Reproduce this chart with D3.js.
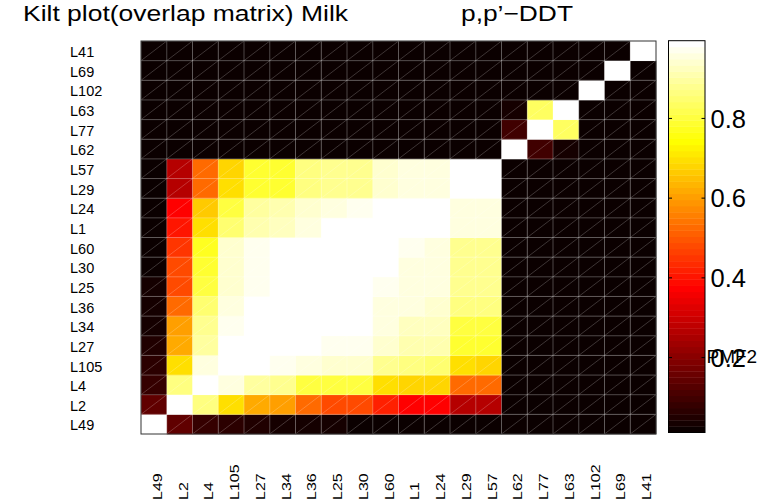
<!DOCTYPE html>
<html><head><meta charset="utf-8">
<script src="https://cdn.jsdelivr.net/npm/d3@7"></script>
<style>
html,body{margin:0;padding:0;background:#fff;}
svg{display:block;}
text{font-family:"Liberation Sans",Arial,Helvetica,sans-serif;fill:#000;}
</style></head>
<body>
<svg id="chart" width="759" height="502"></svg>
<script>
// ---- data ----
const titleLeft = "Kilt plot(overlap matrix) Milk";
const titleRight = "p,p\u2019\u2212DDT";
const colorbarLabel = "PMF2";
// categories, bottom-to-top on y and left-to-right on x
const labels = ["L49","L2","L4","L105","L27","L34","L36","L25","L30","L60","L1","L24","L29","L57","L62","L77","L63","L102","L69","L41"];
const colorTicks = [0.2, 0.4, 0.6, 0.8];
const colorLimits = [0.012, 0.995];
// overlap values: one row per y category (same order as labels), columns in label order
const rowL49  = [1.00,0.135,0.080,0.066,0.050,0.035,0.030,0.028,0.025,0.025,0.022,0.020,0.020,0.020,0.02,0.02,0.02,0.02,0.02,0.02];
const rowL2   = [0.135,1.00,0.864,0.695,0.626,0.604,0.526,0.488,0.488,0.419,0.373,0.373,0.266,0.266,0.02,0.02,0.02,0.02,0.02,0.02];
const rowL4   = [0.080,0.864,1.00,0.957,0.895,0.880,0.803,0.803,0.803,0.695,0.674,0.674,0.534,0.534,0.02,0.02,0.02,0.02,0.02,0.02];
const rowL105 = [0.066,0.695,0.957,1.00,0.990,0.972,0.957,0.945,0.945,0.880,0.864,0.850,0.695,0.674,0.02,0.02,0.02,0.02,0.02,0.02];
const rowL27  = [0.050,0.626,0.895,0.990,1.00,0.990,0.990,0.972,0.970,0.941,0.910,0.910,0.788,0.788,0.02,0.02,0.02,0.02,0.02,0.02];
const rowL34  = [0.035,0.604,0.880,0.972,0.990,1.00,0.995,0.990,0.990,0.957,0.926,0.926,0.803,0.803,0.02,0.02,0.02,0.02,0.02,0.02];
const rowL36  = [0.030,0.526,0.850,0.960,0.990,0.995,1.00,0.995,0.990,0.957,0.950,0.945,0.864,0.864,0.02,0.02,0.02,0.02,0.02,0.02];
const rowL25  = [0.028,0.488,0.810,0.945,0.975,0.990,0.995,1.00,0.995,0.972,0.957,0.957,0.880,0.880,0.02,0.02,0.02,0.02,0.02,0.02];
const rowL30  = [0.025,0.475,0.790,0.941,0.972,0.990,0.990,0.995,1.00,0.990,0.957,0.957,0.880,0.880,0.02,0.02,0.02,0.02,0.02,0.02];
const rowL60  = [0.025,0.457,0.772,0.941,0.972,0.990,0.990,0.990,0.995,1.00,0.972,0.957,0.880,0.880,0.02,0.02,0.02,0.02,0.02,0.02];
const rowL1   = [0.022,0.410,0.695,0.850,0.910,0.926,0.957,0.990,0.990,0.990,1.00,0.990,0.950,0.950,0.02,0.02,0.02,0.02,0.02,0.02];
const rowL24  = [0.020,0.373,0.665,0.803,0.895,0.910,0.941,0.960,0.965,0.990,0.990,1.00,0.957,0.957,0.02,0.02,0.02,0.02,0.02,0.02];
const rowL29  = [0.020,0.266,0.534,0.695,0.788,0.788,0.864,0.880,0.880,0.941,0.957,0.957,1.00,0.995,0.02,0.02,0.02,0.02,0.02,0.02];
const rowL57  = [0.020,0.266,0.534,0.674,0.788,0.788,0.864,0.880,0.880,0.941,0.957,0.957,0.995,1.00,0.02,0.02,0.02,0.02,0.02,0.02];
const rowL62  = [0.02,0.02,0.02,0.02,0.02,0.02,0.02,0.02,0.02,0.02,0.02,0.02,0.02,0.02,1.00,0.097,0.035,0.02,0.02,0.02];
const rowL77  = [0.02,0.02,0.02,0.02,0.02,0.02,0.02,0.02,0.02,0.02,0.02,0.02,0.02,0.02,0.097,1.00,0.834,0.02,0.02,0.02];
const rowL63  = [0.02,0.02,0.02,0.02,0.02,0.02,0.02,0.02,0.02,0.02,0.02,0.02,0.02,0.02,0.035,0.834,1.00,0.02,0.02,0.02];
const rowL102 = [0.02,0.02,0.02,0.02,0.02,0.02,0.02,0.02,0.02,0.02,0.02,0.02,0.02,0.02,0.02,0.02,0.02,1.00,0.02,0.02];
const rowL69  = [0.02,0.02,0.02,0.02,0.02,0.02,0.02,0.02,0.02,0.02,0.02,0.02,0.02,0.02,0.02,0.02,0.02,0.02,1.00,0.02];
const rowL41  = [0.02,0.02,0.02,0.02,0.02,0.02,0.02,0.02,0.02,0.02,0.02,0.02,0.02,0.02,0.02,0.02,0.02,0.02,0.02,1.00];
const rows = [rowL49,rowL2,rowL4,rowL105,rowL27,rowL34,rowL36,rowL25,rowL30,rowL60,rowL1,rowL24,rowL29,rowL57,rowL62,rowL77,rowL63,rowL102,rowL69,rowL41];

// ---- MATLAB "hot" colormap, 64 levels ----
const M = 64;
function hotIndex(v){
  const t = (v - colorLimits[0]) / (colorLimits[1] - colorLimits[0]);
  return Math.max(1, Math.min(M, Math.floor(t * M) + 1));
}
function hotColor(idx){
  const n = 24;
  const r = idx <= n ? idx / n : 1;
  const g = idx <= n ? 0 : (idx <= 2*n ? (idx - n) / n : 1);
  const b = idx <= 2*n ? 0 : (idx - 2*n) / (M - 2*n);
  return d3.rgb(Math.round(r*255), Math.round(g*255), Math.round(b*255)).toString();
}

const svg = d3.select("#chart");
const x = d3.scaleBand().domain(labels).range([141, 656]);
const y = d3.scaleBand().domain(labels).range([434, 41]);

const cells = [];
labels.forEach((ry, i) => labels.forEach((cx, j) => cells.push({row: ry, col: cx, v: rows[i][j]})));

const g = svg.append("g");
g.selectAll("rect.cell").data(cells).join("rect")
  .attr("class","cell")
  .attr("x", d => x(d.col)).attr("y", d => y(d.row))
  .attr("width", x.bandwidth() + 0.3).attr("height", y.bandwidth() + 0.3)
  .attr("fill", d => hotColor(hotIndex(d.v)));

// grid edges
const gl = svg.append("g").attr("stroke","#fff").attr("stroke-opacity",0.28).attr("stroke-width",1).attr("fill","none");
labels.forEach(l => {
  gl.append("line").attr("x1", x(l)).attr("x2", x(l)).attr("y1", 41).attr("y2", 434);
  gl.append("line").attr("y1", y(l)).attr("y2", y(l)).attr("x1", 141).attr("x2", 656);
});
// kilt diagonals
svg.append("g").attr("stroke","#fff").attr("stroke-opacity",0.26).attr("stroke-width",0.8)
  .selectAll("line").data(cells).join("line")
  .attr("x1", d => x(d.col)).attr("y1", d => y(d.row) + y.bandwidth())
  .attr("x2", d => x(d.col) + x.bandwidth()).attr("y2", d => y(d.row));

// axes box
svg.append("rect").attr("x",141).attr("y",41).attr("width",515).attr("height",393)
  .attr("fill","none").attr("stroke","#333").attr("stroke-width",1);

// y labels
svg.append("g").selectAll("text").data(labels).join("text")
  .attr("x", 70).attr("y", d => y(d) + y.bandwidth()/2 + 6.3)
  .attr("font-size", 14.5).text(d => d);

// x labels (rotated, cut by the page bottom)
svg.append("g").selectAll("text").data(labels).join("text")
  .attr("transform", d => `translate(${x(d) + x.bandwidth()/2 + 8},500) rotate(-90)`)
  .attr("font-size", 12)
  .attr("textLength", d => d.length * 8.9).attr("lengthAdjust","spacingAndGlyphs")
  .text(d => d);

// titles
svg.append("text").attr("x", 23).attr("y", 20.5).attr("font-size", 22.5)
  .attr("textLength", 325).attr("lengthAdjust","spacingAndGlyphs").text(titleLeft);
svg.append("text").attr("x", 461).attr("y", 20.5).attr("font-size", 22.5)
  .attr("textLength", 112).attr("lengthAdjust","spacingAndGlyphs").text(titleRight);

// colorbar
const cb = {x: 668.5, w: 36.5};
const cy = d3.scaleLinear().domain(colorLimits).range([432.5, 40.7]);
const bands = d3.range(1, M + 1);
svg.append("g").selectAll("rect").data(bands).join("rect")
  .attr("x", cb.x)
  .attr("y", k => cy(colorLimits[0] + k/M*(colorLimits[1]-colorLimits[0])))
  .attr("width", cb.w)
  .attr("height", k => cy(colorLimits[0] + (k-1)/M*(colorLimits[1]-colorLimits[0])) - cy(colorLimits[0] + k/M*(colorLimits[1]-colorLimits[0])) + 0.4)
  .attr("fill", k => hotColor(k));
svg.append("rect").attr("x", cb.x).attr("y", 40.7).attr("width", cb.w).attr("height", 432.5-40.7)
  .attr("fill","none").attr("stroke","#000").attr("stroke-width",1);
const tk = svg.append("g").attr("stroke","#000").attr("stroke-width",1);
colorTicks.forEach(t => {
  tk.append("line").attr("x1", cb.x).attr("x2", cb.x + 3.5).attr("y1", cy(t)).attr("y2", cy(t));
  tk.append("line").attr("x1", cb.x + cb.w - 3.5).attr("x2", cb.x + cb.w).attr("y1", cy(t)).attr("y2", cy(t));
});
svg.append("g").selectAll("text").data(colorTicks).join("text")
  .attr("x", 710.5).attr("y", t => cy(t) + 9.2)
  .attr("font-size", 25.5).text(t => d3.format(".1f")(t));
svg.append("text").attr("x", 706.5).attr("y", cy(0.2) + 5)
  .attr("font-size", 19).text(colorbarLabel);
</script>
</body></html>
